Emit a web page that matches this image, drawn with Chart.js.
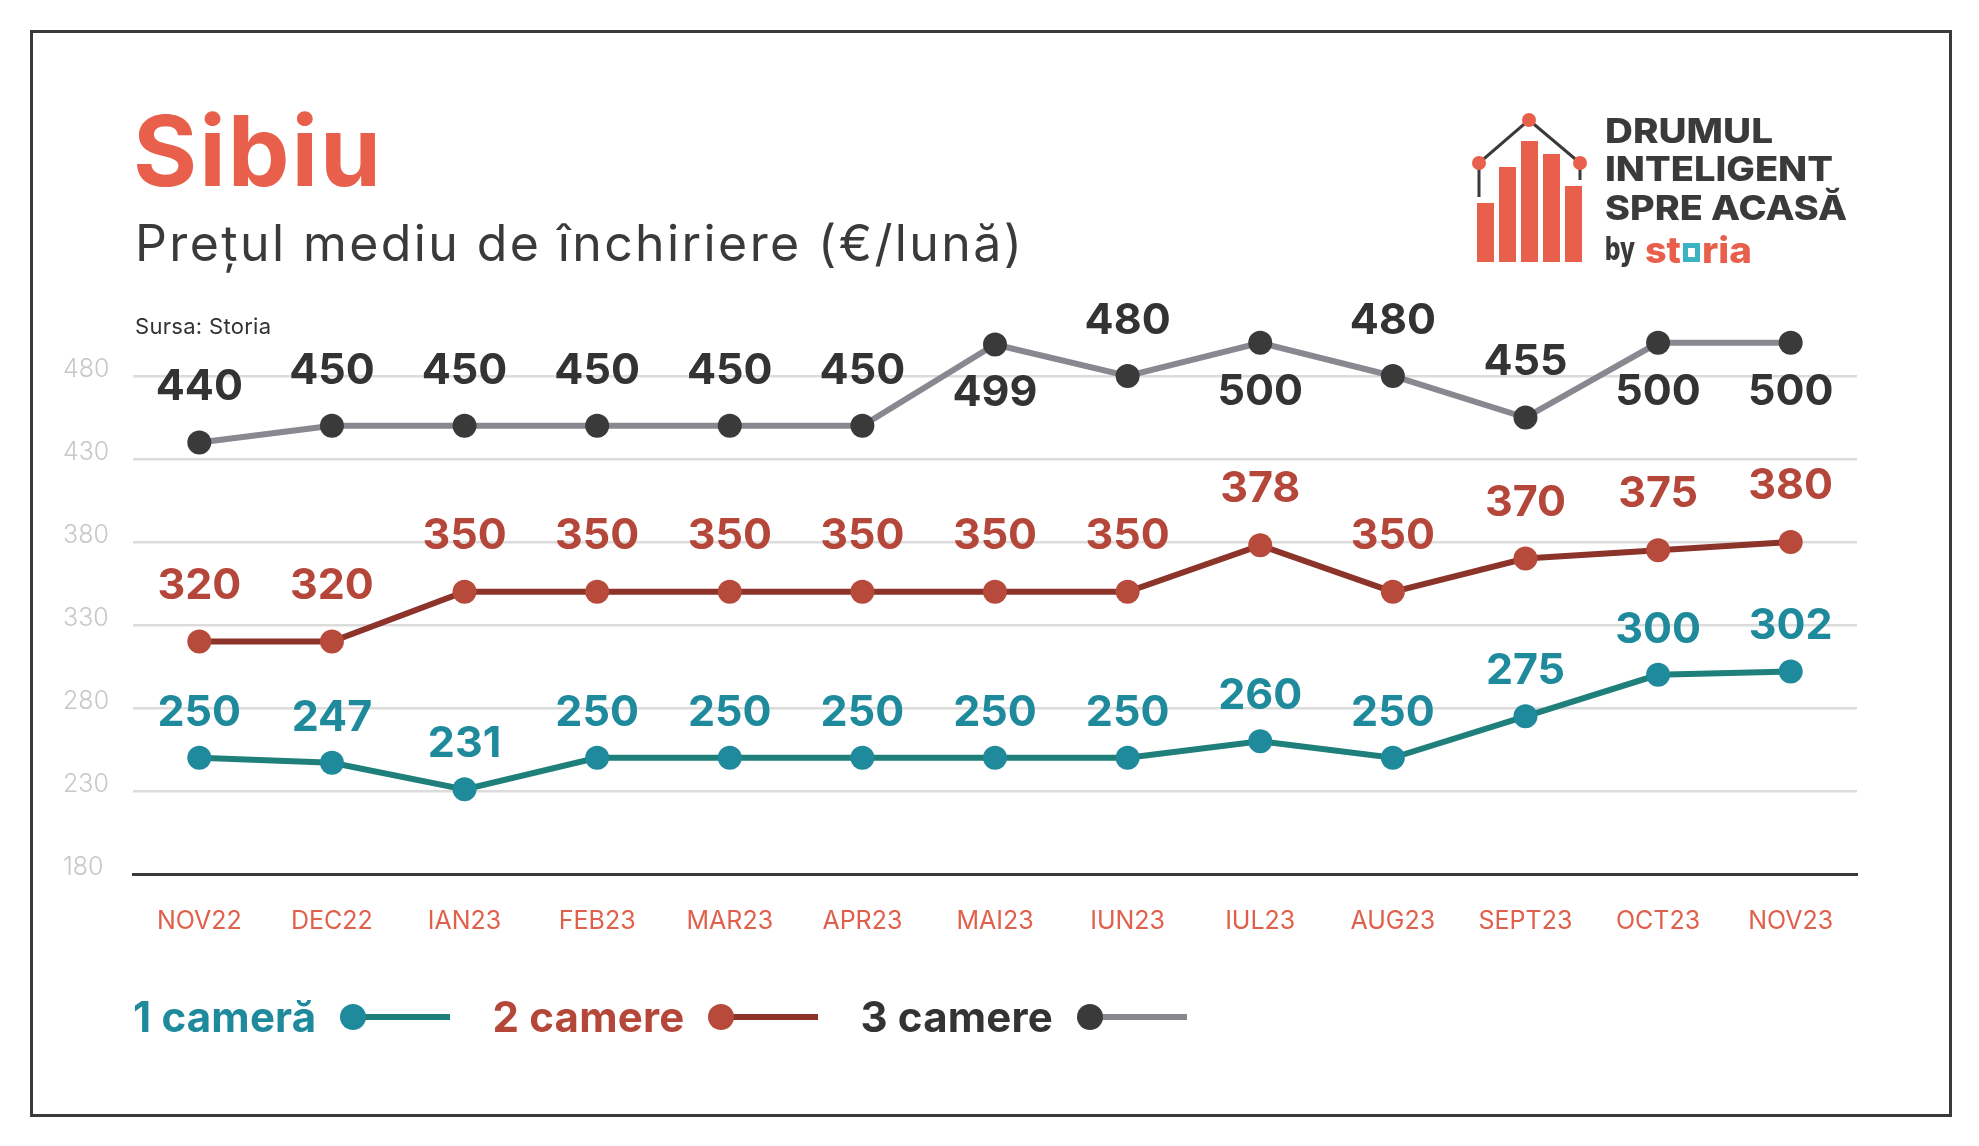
<!DOCTYPE html>
<html lang="ro">
<head>
<meta charset="utf-8">
<title>Sibiu - Pretul mediu de inchiriere</title>
<script src="https://cdn.jsdelivr.net/npm/chart.js@4.4.1/dist/chart.umd.min.js"></script>
<style>
    html, body { margin: 0; padding: 0; background: #fff; }
    body { width: 1979px; height: 1146px; position: relative; overflow: hidden; font-family: 'Inter', 'Open Sans', sans-serif; }
    .frame { position: absolute; left: 30px; top: 30px; width: 1916px; height: 1081px; border: 3px solid #3a3a3a; }
    #chart { position: absolute; left: 0; top: 0; }
    .title { position: absolute; left: 133px; top: 102px; font-size: 98px; line-height: 1; font-weight: 700; color: #e8604b; letter-spacing: 2px; }
    .subtitle { position: absolute; left: 135px; top: 218px; font-size: 50px; line-height: 1; font-weight: 400; color: #3a3a3a; letter-spacing: 2.4px; }
    .source { position: absolute; left: 135px; top: 315px; font-size: 22px; line-height: 1; color: #333; letter-spacing: 0.3px; }
    .legend { position: absolute; left: 133px; top: 992px; display: flex; align-items: center; gap: 40px; }
    .legend-item { display: flex; align-items: center; gap: 24px; font-size: 42px; line-height: 50px; font-weight: 700; letter-spacing: 0.2px; }
    .logo { position: absolute; left: 0; top: 0; pointer-events: none; }
</style>
</head>
<body>
<div class="frame"></div>
<canvas id="chart" width="1979" height="1146"></canvas>
<div class="title">Sibiu</div>
<div class="subtitle">Preţul mediu de închiriere (€/lună)</div>
<div class="source">Sursa: Storia</div>
<div class="legend" id="legend"></div>

<svg class="logo" width="1979" height="1146" viewBox="0 0 1979 1146">
    <g fill="#e8604b">
        <rect x="1477" y="203" width="17" height="59"/>
        <rect x="1499" y="167" width="17" height="95"/>
        <rect x="1521" y="141" width="17" height="121"/>
        <rect x="1543" y="154" width="17" height="108"/>
        <rect x="1565" y="186" width="17" height="76"/>
    </g>
    <polyline points="1479,197 1479,163 1529,120 1580,163 1580,180" fill="none" stroke="#3a3a3a" stroke-width="3"/>
    <g fill="#e8604b">
        <circle cx="1479" cy="163" r="7"/>
        <circle cx="1529" cy="120" r="7"/>
        <circle cx="1580" cy="163" r="7"/>
    </g>
    <g font-family="Inter, sans-serif" font-weight="800" fill="#3a3a3a" font-size="34">
        <text x="1605" y="143" textLength="168" lengthAdjust="spacingAndGlyphs">DRUMUL</text>
        <text x="1605" y="181" textLength="228" lengthAdjust="spacingAndGlyphs">INTELIGENT</text>
        <text x="1605" y="220" textLength="242" lengthAdjust="spacingAndGlyphs">SPRE ACASĂ</text>
        <text x="1605" y="260" font-size="32" textLength="30" lengthAdjust="spacingAndGlyphs">by</text>
    </g>
    <g font-family="Inter, sans-serif" font-weight="800" fill="#e8604b" font-size="37">
        <text x="1645" y="263" textLength="36" lengthAdjust="spacingAndGlyphs">st</text>
        <text x="1702" y="263" textLength="50" lengthAdjust="spacingAndGlyphs">ria</text>
    </g>
    <rect x="1683" y="243" width="17" height="19" fill="#3bb3c3"/>
    <rect x="1688" y="248" width="7" height="9" fill="#fff"/>
</svg>

<script>
// data
const months = ['NOV22', 'DEC22', 'IAN23', 'FEB23', 'MAR23', 'APR23', 'MAI23', 'IUN23', 'IUL23', 'AUG23', 'SEPT23', 'OCT23', 'NOV23'];
const oneRoom = [250, 247, 231, 250, 250, 250, 250, 250, 260, 250, 275, 300, 302];
const twoRooms = [320, 320, 350, 350, 350, 350, 350, 350, 378, 350, 370, 375, 380];
const threeRooms = [440, 450, 450, 450, 450, 450, 499, 480, 500, 480, 455, 500, 500];
const yTicks = [180, 230, 280, 330, 380, 430, 480];
const seriesNames = ['1 cameră', '2 camere', '3 camere'];

const FONT = "'Inter', 'Open Sans', sans-serif";

const series = [
    { data: oneRoom,    text: '#1e8a9b', dot: '#1f8a9b', line: '#1f7f7a', lift: 45 },
    { data: twoRooms,   text: '#b5473a', dot: '#b84a3c', line: '#8c3429', lift: 56 },
    { data: threeRooms, text: '#333333', dot: '#3a3a3a', line: '#8a8790', lift: 55 }
];

// value labels above each point, or below when there is no room up top
const valueLabels = {
    id: 'valueLabels',
    afterDatasetsDraw(chart) {
        const ctx = chart.ctx;
        const top = chart.chartArea.top;
        ctx.save();
        ctx.font = `700 43px ${FONT}`;
        ctx.textAlign = 'center';
        ctx.textBaseline = 'middle';
        chart.data.datasets.forEach((ds, di) => {
            const meta = chart.getDatasetMeta(di);
            meta.data.forEach((pt, i) => {
                let y = pt.y - series[di].lift;
                if (y - 16 < top) y = pt.y + 49;
                ctx.fillStyle = series[di].text;
                ctx.fillText(String(ds.data[i]), pt.x, y);
            });
        });
        ctx.restore();
    }
};

new Chart(document.getElementById('chart'), {
    type: 'line',
    data: {
        labels: months,
        datasets: series.map((s, i) => ({
            label: seriesNames[i],
            data: s.data,
            borderColor: s.line,
            borderWidth: 6,
            pointRadius: 12,
            pointBorderWidth: 0,
            pointBackgroundColor: s.dot,
            tension: 0,
            fill: false
        }))
    },
    options: {
        responsive: false,
        animation: false,
        layout: { padding: { left: 63, right: 122, top: 293, bottom: 192 } },
        plugins: {
            legend: { display: false },
            tooltip: { enabled: false }
        },
        scales: {
            x: {
                offset: true,
                afterFit: (scale) => { scale.height = 80; },
                grid: { display: false, drawTicks: false },
                border: { display: true, color: '#3a3a3a', width: 3 },
                ticks: {
                    color: '#e0604b',
                    padding: 32,
                    font: { family: FONT, size: 25, weight: '400' }
                }
            },
            y: {
                min: 180,
                max: 530,
                afterBuildTicks: (scale) => { scale.ticks = yTicks.map(v => ({ value: v })); },
                afterFit: (scale) => { scale.width = 70; },
                grid: { color: '#dcdcdc', lineWidth: 2.5, drawTicks: false },
                border: { display: false },
                ticks: {
                    color: '#c8c8c8',
                    padding: 22,
                    crossAlign: 'far',
                    labelOffset: -7,
                    font: { family: FONT, size: 25, weight: '300' }
                }
            }
        }
    },
    plugins: [valueLabels]
});

// legend: name, then dot + line
const legend = document.getElementById('legend');
series.forEach((s, i) => {
    const item = document.createElement('div');
    item.className = 'legend-item';
    item.style.color = s.text;
    item.innerHTML = `<span>${seriesNames[i]}</span>` +
        `<svg width="112" height="28"><line x1="13" y1="14" x2="110" y2="14" stroke="${s.line}" stroke-width="6"/>` +
        `<circle cx="13" cy="14" r="13" fill="${s.dot}"/></svg>`;
    legend.appendChild(item);
});
</script>
</body>
</html>
